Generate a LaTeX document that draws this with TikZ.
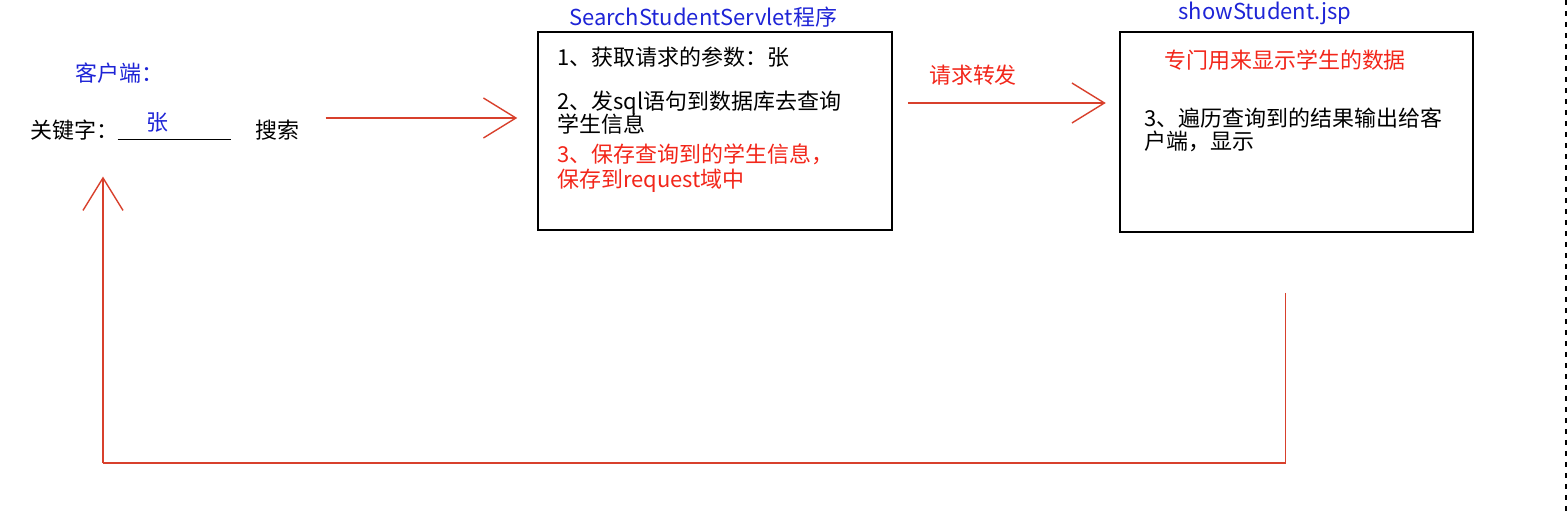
\documentclass[tikz,border=0pt]{standalone}
\usepackage{fontspec}
\setmainfont{Noto Sans CJK SC}
\usetikzlibrary{arrows.meta,positioning,calc}
\definecolor{flowred}{HTML}{D8402C}
\definecolor{txtred}{HTML}{F2261A}
\definecolor{txtblue}{HTML}{1E24D6}

\begin{document}
\begin{tikzpicture}[x=0.02cm,y=-0.02cm,font=\fontsize{12.5}{15}\selectfont,
  page/.style={draw=black,line width=0.9pt,inner sep=0pt},
  txt/.style={anchor=west,inner sep=0pt,align=left},
  ttl/.style={inner sep=0pt,txtblue},
  flow/.style={flowred,line width=0.8pt},
  fw/.style={flow,-{Straight Barb[length=6.5mm,width=8mm,line width=0.8pt]}}]

\useasboundingbox (0,0) rectangle (1568,513);

% ---------------- client side -----------------------------------------------
\node[txt,txtblue] (client) at (75,73) {客户端：};
\node[txt] (keyword) at (30,130) {关键字：};
\node[inner sep=0pt,minimum width=2.26cm,minimum height=0.4cm] (field) at (174.5,129) {};
\draw[black,line width=0.6pt] (field.south west) -- (field.south east);
\node[inner sep=0pt,txtblue] (kwval) at (157,122) {张};
\node[txt] (search) at (255,130) {搜索};

% ---------------- servlet ---------------------------------------------------
\node[page,minimum width=7.08cm,minimum height=3.96cm] (servlet) at (715,131) {};
\node[ttl] (servtitle) at (703,17) {SearchStudentServlet程序};
\node[txt] (s1) at (557,57) {1、获取请求的参数：张};
\node[txt] (s2) at (557,113) {2、发sql语句到数据库去查询\\[-2pt]学生信息};
\node[txt,txtred] (s3) at (557,168) {3、保存查询到的学生信息，\\[-1pt]保存到request域中};

% ---------------- jsp page --------------------------------------------------
\node[page,minimum width=7.06cm,minimum height=4.0cm] (show) at (1296.5,132) {};
\node[ttl] (showtitle) at (1265,13) {showStudent.jsp};
\node[txt,txtred] (j1) at (1164,60) {专门用来显示学生的数据};
\node[txt] (j3) at (1144,129.5) {3、遍历查询到的结果输出给客\\[-2pt]户端，显示};

% ---------------- request and forward ---------------------------------------
\draw[fw] ($(search.east)+(26,-12)$) -- ($(servlet.west)+(-20,-13)$);
\draw[fw] ($(servlet.east)+(15,-28)$) -- ($(servlet.east)+(213,-28)$);
\node[inner sep=0pt,txtred] (fwdlbl) at (973,75) {请求转发};

% ---------------- response back to the client -------------------------------
\coordinate (retR) at ($(show.south)+(-11,60)$);
\coordinate (retL) at (103,463);
\draw[flow] (retR) -- (retR |- retL);
\draw[flowred,line width=1.2pt] (retR |- retL) -- (retL);
\draw[fw] (retL) -- ($(retL |- keyword.south)+(0,36)$);

% ---------------- page edge -------------------------------------------------
\draw[black,line width=1pt,dash pattern=on 0.1cm off 0.12cm] (1566,0) -- (1566,513);

\end{tikzpicture}
\end{document}
